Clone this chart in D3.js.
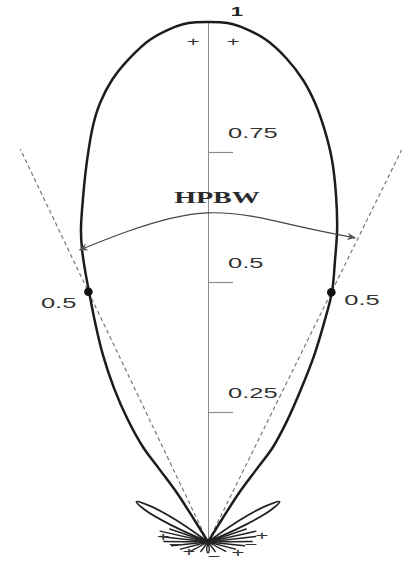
<!DOCTYPE html>
<html>
<head>
<meta charset="utf-8">
<script src="https://cdn.jsdelivr.net/npm/d3@7"></script>
<style>
  html, body { margin: 0; padding: 0; background: #fff; }
  svg { display: block; }
</style>
</head>
<body>
<svg id="chart" width="403" height="565"></svg>
<script>
// Radiation pattern (normalised field) in polar form, 0° = boresight, clockwise positive.
const mainAngles = [-20.06, -20.41, -21.42, -21.93, -21.09, -19.75, -18.28, -16.81, -15.64, -14.9, -14.24,
  -13.47, -12.03, -10.55, -9.21, -8.23, -6.97, -5.42, -3.89, -2.63, -1.63, -0.78, 0,
  0.78, 1.63, 2.63, 3.89, 5.42, 6.90, 8.16, 9.36, 10.81, 12.24, 13.67, 14.84, 16.26,
  17.31, 18.53, 19.68, 21.01, 21.93, 21.42, 20.41, 20.06];
const mainGain = [0.059, 0.100, 0.149, 0.197, 0.252, 0.315, 0.379, 0.442, 0.499, 0.541, 0.579,
  0.617, 0.678, 0.747, 0.812, 0.853, 0.895, 0.935, 0.968, 0.986, 0.996, 0.9995, 1.0,
  0.9995, 0.996, 0.986, 0.968, 0.935, 0.895, 0.853, 0.807, 0.748, 0.683, 0.618, 0.561, 0.501,
  0.441, 0.377, 0.313, 0.249, 0.197, 0.149, 0.100, 0.059];

// First side lobes (one on each side)
const sideAngles = [-37.5, -40.5, -43.3, -46.3, -49.2, -52, -55, 37.5, 40.5, 43.3, 46.3, 49.2, 52, 55];
const sideGain   = [0, 0.055, 0.094, 0.112, 0.094, 0.055, 0, 0, 0.055, 0.094, 0.112, 0.094, 0.055, 0];

// Small lobes clustered round the origin
const minorAngles = [56, 60, 64, 69, 74, 79, 84, 89, 94, 100, 106, 114, 122, 132, 142, 156, 168,
  -56, -60, -64, -69, -74, -79, -84, -89, -94, -100, -106, -114, -122, -132, -142, -156, -168];
const minorGain = [0, 0.05, 0, 0.058, 0, 0.055, 0, 0.05, 0, 0.042, 0, 0.034, 0, 0.027, 0, 0.02, 0,
  0, 0.05, 0, 0.058, 0, 0.055, 0, 0.05, 0, 0.042, 0, 0.034, 0, 0.027, 0, 0.02, 0];

// Back lobe
const backAngles = [171, 175, 180, 185, 189];
const backGain   = [0, 0.016, 0.021, 0.016, 0];

// Half-power points and the beamwidth arc
const halfPowerAngles = [-15.7, 16.2];
const halfPowerLevel = 0.5;
const halfPowerRayLength = 0.785;
const hpbwArcAngles = [-14.5, -8.7, 0, 9.0, 15.9];
const hpbwArcGain   = [0.58, 0.604, 0.633, 0.617, 0.608];
const hpbwLabel = "HPBW";

// Radial axis
const tickValues = [0.25, 0.5, 0.75];
const tickLabels = ["0.25", "0.5", "0.75"];
const maxLabel = "1";

// Phase signs of the lobes
const signText   = ["+", "+", "+", "−", "+", "−", "+", "−", "+"];
const signAngles = [-1.0, 1.7, -77.2, -97.3, -131.8, 166.8, 121.9, 95.6, 79.3];
const signGain   = [0.962, 0.962, 0.052, 0.0376, 0.0288, 0.0296, 0.040, 0.0489, 0.0622];

// ---------------------------------------------------------------------------
const svg = d3.select("#chart");
const cx = 208, cy = 542, R = 520, stretch = 1.7;

const xScale = d3.scaleLinear().domain([-1, 1]).range([cx - R * stretch, cx + R * stretch]);
const yScale = d3.scaleLinear().domain([0, 1]).range([cy, cy - R]);

function polar(angleDeg, g) {
  const t = angleDeg * Math.PI / 180;
  return [xScale(g * Math.sin(t)), yScale(g * Math.cos(t))];
}

// Text drawn with the same horizontal stretch as the plot
function label(parent, x, y, str, opts = {}) {
  return parent.append("text")
    .attr("transform", `translate(${x},${y}) scale(${stretch},1)`)
    .attr("text-anchor", opts.anchor || "start")
    .attr("font-family", opts.family || "'Liberation Sans', Arial, sans-serif")
    .attr("font-size", opts.size || 15)
    .attr("font-weight", opts.weight || "normal")
    .attr("fill", opts.fill || "#333")
    .text(str);
}

// Split a list of (angle, gain) into lobes, each closed at its nulls
function lobes(angles, gains) {
  const out = [];
  let cur = [];
  angles.forEach((a, i) => {
    const p = polar(a, gains[i]);
    if (gains[i] === 0) {
      if (cur.length > 1) { cur.push(p); out.push(cur); cur = [p]; }
      else cur = [p];
    } else cur.push(p);
  });
  return out;
}

const smooth = d3.line().curve(d3.curveCatmullRom.alpha(0.5));

// Axis along boresight
const axis = d3.axisRight(yScale)
  .tickValues(tickValues)
  .tickSize(25)
  .tickSizeOuter(0)
  .tickFormat((d, i) => tickLabels[i]);

const axisG = svg.append("g").attr("transform", `translate(${cx},0)`).call(axis);
axisG.select(".domain").attr("stroke", "#8c8c8c").attr("stroke-width", 1);
axisG.selectAll(".tick line").attr("stroke", "#8c8c8c").attr("stroke-width", 1.2);
axisG.selectAll(".tick text")
  .attr("x", null).attr("dy", null)
  .attr("transform", `translate(20,-15) scale(${stretch},1)`)
  .attr("text-anchor", "start")
  .attr("font-family", "'Liberation Sans', Arial, sans-serif")
  .attr("font-size", 15)
  .attr("fill", "#333");

// Half-power rays
const rays = svg.append("g");
halfPowerAngles.forEach(a => {
  const [x1, y1] = polar(a, 0);
  const [x2, y2] = polar(a, halfPowerRayLength);
  rays.append("line")
    .attr("x1", x1).attr("y1", y1).attr("x2", x2).attr("y2", y2)
    .attr("stroke", "#777").attr("stroke-width", 1.2)
    .attr("stroke-dasharray", "4,3");
});

// Pattern lobes
const pattern = svg.append("g").attr("stroke-linejoin", "round");
const origin = polar(0, 0);
const mainPts = [origin, ...mainAngles.map((a, i) => polar(a, mainGain[i])), origin];
pattern.append("path").attr("d", smooth(mainPts))
  .attr("fill", "none").attr("stroke", "#1c1c1c").attr("stroke-width", 2.5);
lobes(sideAngles, sideGain).forEach(pts => {
  pattern.append("path").attr("d", smooth(pts))
    .attr("fill", "none").attr("stroke", "#222").attr("stroke-width", 1.8);
});
lobes(minorAngles, minorGain).forEach(pts => {
  pattern.append("path").attr("d", smooth(pts))
    .attr("fill", "#333").attr("stroke", "#222").attr("stroke-width", 1.4);
});
lobes(backAngles, backGain).forEach(pts => {
  pattern.append("path").attr("d", smooth(pts))
    .attr("fill", "#fff").attr("stroke", "#222").attr("stroke-width", 1.4);
});

// Beamwidth arc with arrowheads
const defs = svg.append("defs");
defs.append("marker")
  .attr("id", "arrow")
  .attr("viewBox", "0 0 10 10")
  .attr("refX", 9).attr("refY", 5)
  .attr("markerWidth", 9).attr("markerHeight", 9)
  .attr("markerUnits", "userSpaceOnUse")
  .attr("orient", "auto-start-reverse")
  .append("path")
  .attr("d", "M0,1 L10,5 L0,9 L3,5 Z")
  .attr("fill", "#555");

const arcPts = hpbwArcAngles.map((a, i) => polar(a, hpbwArcGain[i]));
svg.append("path")
  .attr("d", d3.line().curve(d3.curveNatural)(arcPts))
  .attr("fill", "none")
  .attr("stroke", "#444")
  .attr("stroke-width", 1.2)
  .attr("marker-start", "url(#arrow)")
  .attr("marker-end", "url(#arrow)");

const arcPeak = polar(0, hpbwArcGain[2]);
label(svg, arcPeak[0] + 9, arcPeak[1] - 10, hpbwLabel, {
  anchor: "middle", size: 16.5, weight: "bold",
  family: "'Liberation Serif', 'Times New Roman', serif", fill: "#2a2a2a"
});

// Half-power points
halfPowerAngles.forEach(a => {
  const [x, y] = polar(a, halfPowerLevel);
  svg.append("circle").attr("cx", x).attr("cy", y).attr("r", 4.3).attr("fill", "#111");
  if (a < 0) label(svg, x - 12, y + 16, String(halfPowerLevel), { anchor: "end" });
  else label(svg, x + 13, y + 13, String(halfPowerLevel), { anchor: "start" });
});

// Peak value
const peakPt = polar(0, 1);
label(svg, peakPt[0] + 29, peakPt[1] - 6, maxLabel, { anchor: "middle", size: 13, weight: "bold", fill: "#222" });

// Lobe phase signs
signText.forEach((s, i) => {
  const [x, y] = polar(signAngles[i], signGain[i]);
  label(svg, x, y + 4.5, s, { anchor: "middle", size: 13, fill: "#333" });
});
</script>
</body>
</html>
